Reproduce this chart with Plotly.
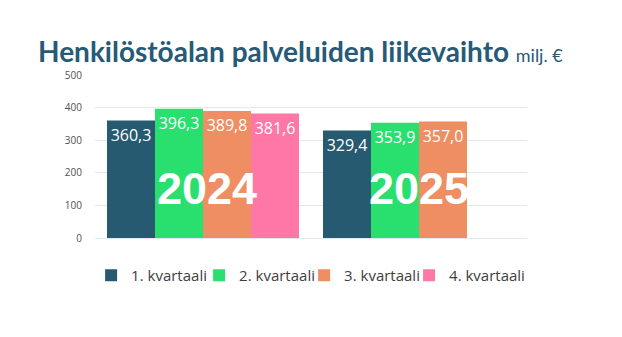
import plotly.graph_objects as go

years = ["2024", "2025"]
quarters = ["1. kvartaali", "2. kvartaali", "3. kvartaali", "4. kvartaali"]
values = {
    "1. kvartaali": [360.3, 329.4],
    "2. kvartaali": [396.3, 353.9],
    "3. kvartaali": [389.8, 357.0],
    "4. kvartaali": [381.6, None],
}
colors = ["#265a70", "#29e06f", "#ee8e62", "#fe77a6"]
yticks = [0, 100, 200, 300, 400, 500]
legend_x = [-0.009, 0.241, 0.484, 0.727]

def fmt(v):
    return "" if v is None else f"{v:.1f}".replace(".", ",")

fig = go.Figure()
legend_ids = ["legend", "legend2", "legend3", "legend4"]
for q, c, lid in zip(quarters, colors, legend_ids):
    vals = values[q]
    fig.add_trace(go.Bar(
        name=q, x=years, y=vals, marker=dict(color=c, line=dict(width=0)),
        text=[fmt(v) for v in vals], textposition="inside", insidetextanchor="end",
        textfont=dict(family="Open Sans", size=16, color="white"),
        constraintext="none", cliponaxis=False, legend=lid,
    ))

for i, yr in enumerate(years):
    fig.add_annotation(x=i + (0.02 if i == 0 else 0.0), y=153, xref="x", yref="y", text=f"<b>{yr}</b>",
                       showarrow=False, font=dict(family="Liberation Sans", size=45, color="white"))

fig.add_annotation(xref="paper", yref="paper", x=-0.137, y=1.03, xanchor="left", yanchor="bottom",
                   text="<b>Henkilöstöalan palveluiden liikevaihto</b> <span style='font-size:18px;font-weight:400'>milj. €</span>",
                   showarrow=False, font=dict(family="Lato", size=28, color="#275a77", weight=900))

legend_style = dict(orientation="h", y=-0.23, yanchor="middle", xanchor="left",
                    font=dict(family="Open Sans", size=15, color="#404040"), itemwidth=30,
                    bgcolor="rgba(0,0,0,0)")
layout_legends = {lid: dict(x=lx, **legend_style) for lid, lx in zip(legend_ids, legend_x)}

fig.update_layout(
    width=622, height=337, margin=dict(l=95, r=95, t=75, b=99, autoexpand=False),
    paper_bgcolor="white", plot_bgcolor="white",
    barmode="group", bargap=0.111, bargroupgap=0,
    showlegend=True,
    xaxis=dict(showticklabels=False, showgrid=False, zeroline=False, showline=False, range=[-0.5, 1.5]),
    yaxis=dict(range=[0, 500], tickvals=yticks, showgrid=True, gridcolor="#dde8f1", gridwidth=1,
               zeroline=True, zerolinecolor="#dde8f1", zerolinewidth=1,
               tickfont=dict(family="Open Sans", size=10, color="#505050"), ticklabelstandoff=12),
    **layout_legends,
)

fig.write_html("out.html")
